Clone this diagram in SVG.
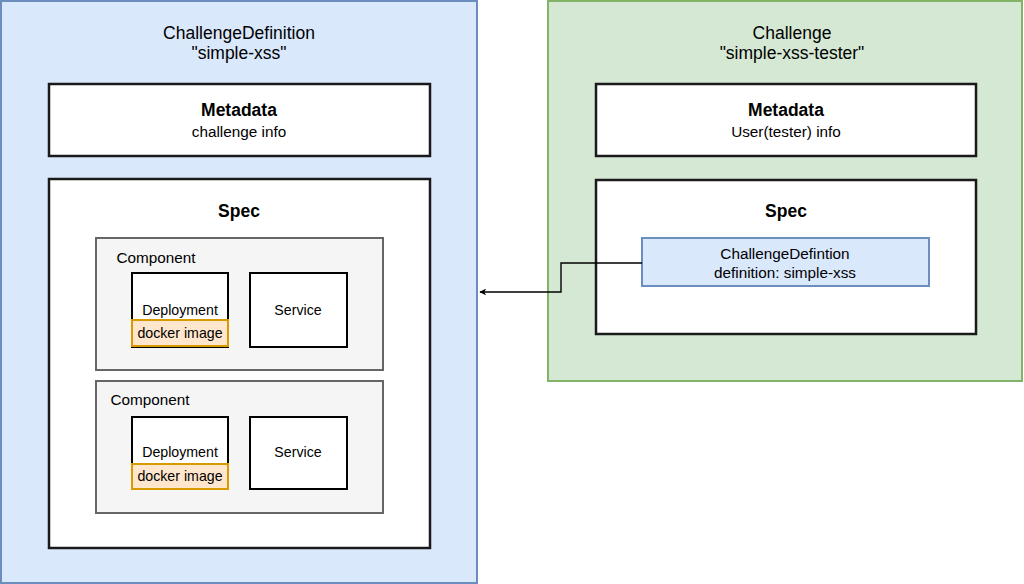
<svg xmlns="http://www.w3.org/2000/svg" width="1024" height="584" viewBox="0 0 1024 584">
<style>
text{font-family:"Liberation Sans",Arial,sans-serif;fill:#000;text-anchor:middle}
.t{font-size:17.5px}
.b{font-size:17.5px;font-weight:bold}
.n{font-size:15.3px}
.s{font-size:14.2px}
.blue{fill:#dae8fc;stroke:#6c8ebf;stroke-width:2}
.green{fill:#d5e8d4;stroke:#82b366;stroke-width:2}
.white{fill:#fff;stroke:#1a1a1a;stroke-width:2.5}
.comp{fill:#f5f5f5;stroke:#666;stroke-width:2}
.box{fill:#fff;stroke:#000;stroke-width:2}
.orange{fill:#ffe6cc;stroke:#d79b00;stroke-width:2}
.conn{fill:none;stroke:#000;stroke-width:1.4}
</style>
<defs>
<marker id="arr" viewBox="0 0 10 10" refX="9" refY="5" markerWidth="7" markerHeight="7" orient="auto" markerUnits="userSpaceOnUse">
<path d="M0,0 L10,5 L0,10 L3,5 Z" fill="#000"/>
</marker>
</defs>
<g id="challenge-definition">
<rect class="blue" x="1" y="1" width="476" height="582"/>
<text class="t" x="239" y="39">ChallengeDefinition</text>
<text class="t" x="239" y="59">"simple-xss"</text>
</g>
<g id="cd-metadata">
<rect class="white" x="49" y="84" width="381" height="72"/>
<text class="b" x="239" y="116">Metadata</text>
<text class="n" x="239" y="137">challenge info</text>
</g>
<g id="cd-spec">
<rect class="white" x="49" y="179" width="381" height="369"/>
<text class="b" x="239" y="217">Spec</text>
</g>
<g id="component-1">
<rect class="comp" x="96" y="238" width="287" height="132"/>
<text class="n" x="156" y="263">Component</text>
</g>
<g id="deployment-1">
<rect class="box" x="132" y="273" width="96" height="74"/>
<text class="s" x="180" y="315">Deployment</text>
<rect class="orange" x="132" y="320" width="96" height="26"/>
<text class="s" x="180" y="338">docker image</text>
</g>
<g id="service-1">
<rect class="box" x="250" y="273" width="97" height="74"/>
<text class="s" x="298" y="315">Service</text>
</g>
<g id="component-2">
<rect class="comp" x="96" y="381" width="287" height="132"/>
<text class="n" x="150" y="405">Component</text>
</g>
<g id="deployment-2">
<rect class="box" x="132" y="417" width="96" height="72"/>
<text class="s" x="180" y="457">Deployment</text>
<rect class="orange" x="132" y="464" width="96" height="25"/>
<text class="s" x="180" y="481">docker image</text>
</g>
<g id="service-2">
<rect class="box" x="250" y="417" width="97" height="72"/>
<text class="s" x="298" y="457">Service</text>
</g>
<g id="challenge">
<rect class="green" x="548" y="1" width="474" height="380"/>
<text class="t" x="792" y="39">Challenge</text>
<text class="t" x="792" y="59">"simple-xss-tester"</text>
</g>
<g id="c-metadata">
<rect class="white" x="596" y="84" width="380" height="72"/>
<text class="b" x="786" y="116">Metadata</text>
<text class="n" x="786" y="137">User(tester) info</text>
</g>
<g id="c-spec">
<rect class="white" x="596" y="180" width="380" height="154"/>
<text class="b" x="786" y="217">Spec</text>
</g>
<g id="c-challengedef">
<rect class="blue" x="642" y="238" width="287" height="48"/>
<text class="n" x="785" y="259">ChallengeDefintion</text>
<text class="n" x="785" y="278">definition: simple-xss</text>
</g>
<g id="connectors">
<path class="conn" d="M642,263 H561 V292 H480" marker-end="url(#arr)"/>
</g>
</svg>
